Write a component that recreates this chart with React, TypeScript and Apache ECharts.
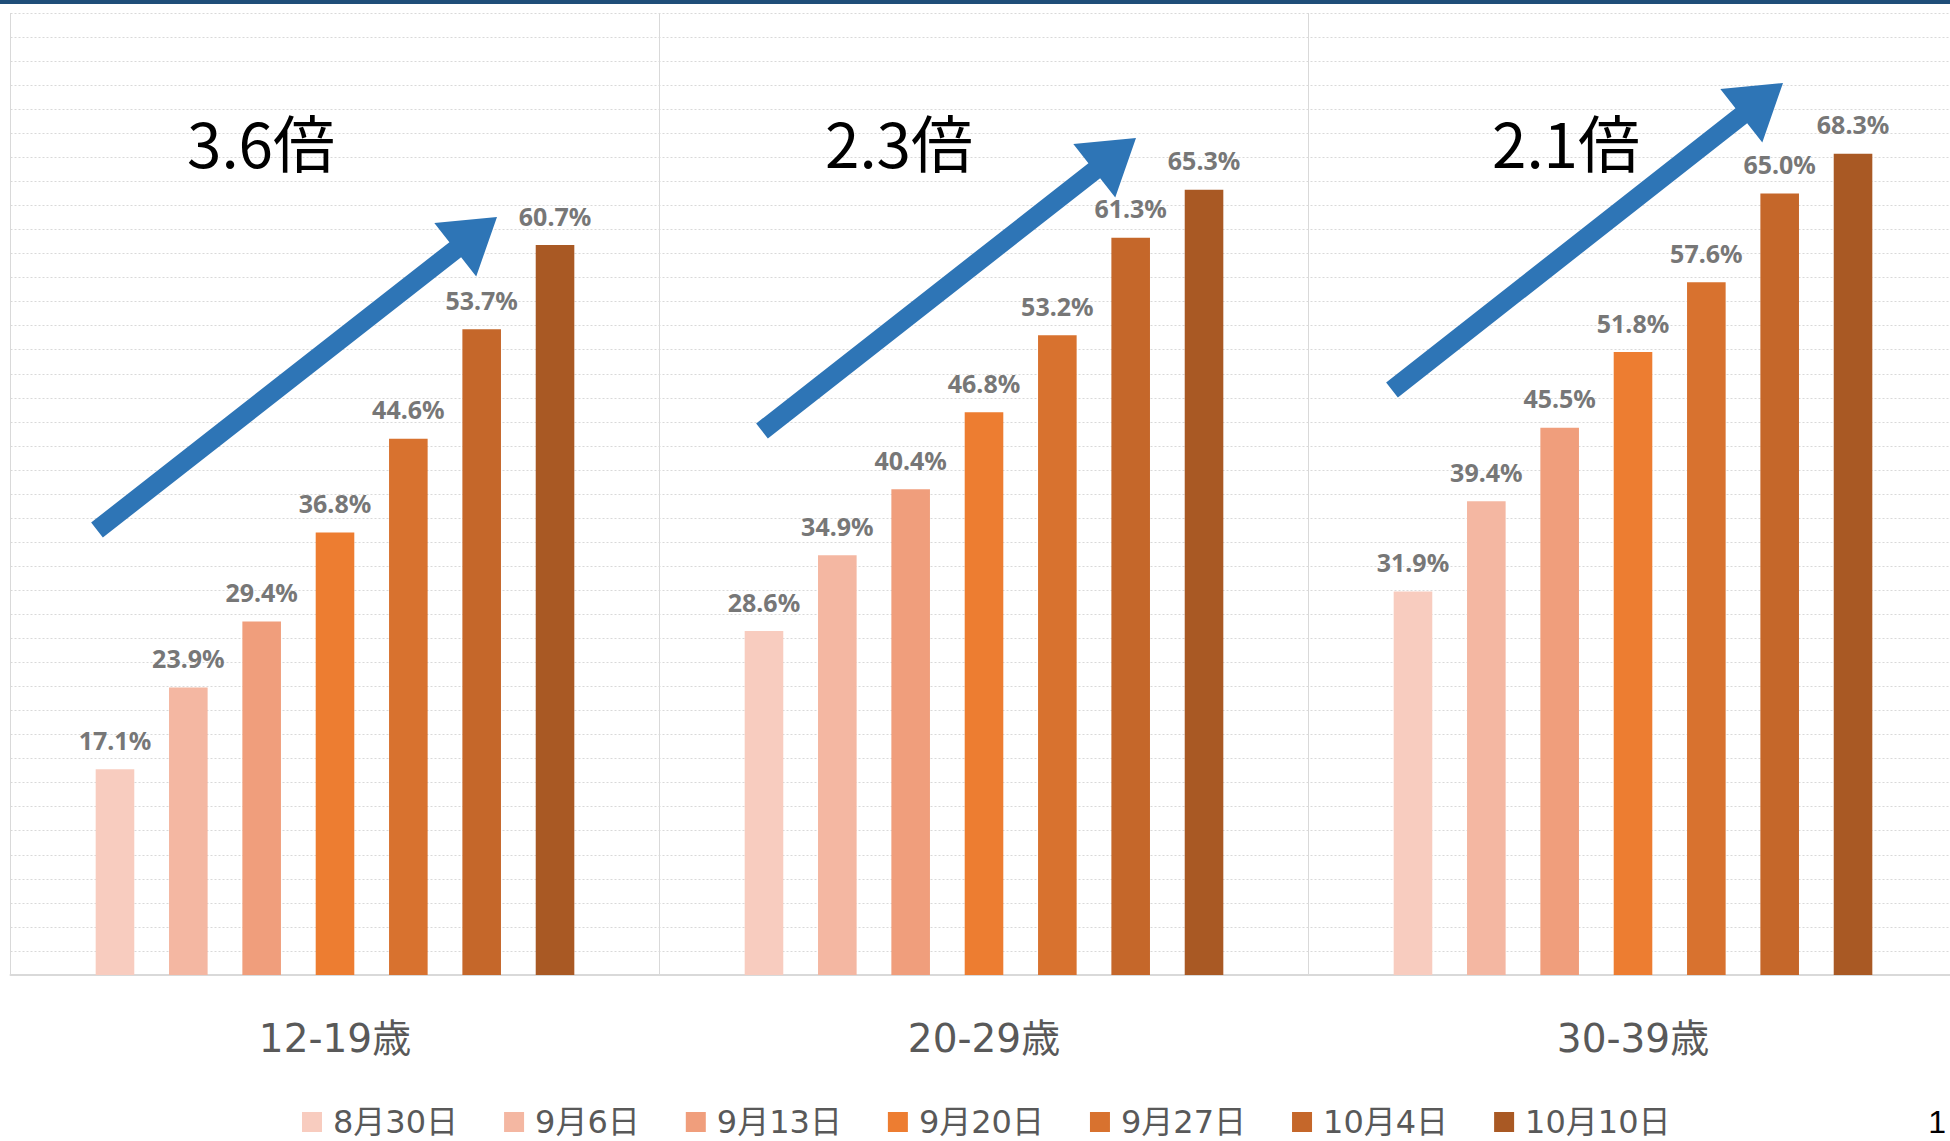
import React, { useEffect, useRef } from "react";
import * as echarts from "echarts";

const categories = ["12-19歳", "20-29歳", "30-39歳"];
const seriesNames = ["8月30日", "9月6日", "9月13日", "9月20日", "9月27日", "10月4日", "10月10日"];
const s0830 = [17.1, 28.6, 31.9];
const s0906 = [23.9, 34.9, 39.4];
const s0913 = [29.4, 40.4, 45.5];
const s0920 = [36.8, 46.8, 51.8];
const s0927 = [44.6, 53.2, 57.6];
const s1004 = [53.7, 61.3, 65.0];
const s1010 = [60.7, 65.3, 68.3];
const seriesValues = [s0830, s0906, s0913, s0920, s0927, s1004, s1010];
const ratioTexts = ["3.6倍", "2.3倍", "2.1倍"];

const colors = ["#F8CCBF", "#F4B7A2", "#F09E7C", "#ED7D31", "#D8722F", "#C5672A", "#A95924"];

const CJK = "'DejaVu Sans', 'Noto Sans CJK JP', sans-serif";

function arrowPoints(tx: number, ty: number, px: number, py: number, sw: number, hl: number, hw: number) {
  const dx = px - tx;
  const dy = py - ty;
  const L = Math.hypot(dx, dy);
  const ux = dx / L;
  const uy = dy / L;
  const nx = -uy;
  const ny = ux;
  const bx = px - ux * hl;
  const by = py - uy * hl;
  return [
    [tx + (nx * sw) / 2, ty + (ny * sw) / 2],
    [bx + (nx * sw) / 2, by + (ny * sw) / 2],
    [bx + (nx * hw) / 2, by + (ny * hw) / 2],
    [px, py],
    [bx - (nx * hw) / 2, by - (ny * hw) / 2],
    [bx - (nx * sw) / 2, by - (ny * sw) / 2],
    [tx - (nx * sw) / 2, ty - (ny * sw) / 2],
  ];
}

const arrows = [
  [97, 530, 497, 217],
  [762, 431, 1136, 138],
  [1392, 390, 1783, 83],
];
const ratioPos = [
  [261, 141],
  [899, 141],
  [1566, 141],
];

export default function App() {
  const ref = useRef<HTMLDivElement>(null);
  useEffect(() => {
    if (!ref.current) return;
    const chart = echarts.init(ref.current, null, { renderer: "svg" });
    const graphics: any[] = [
      {
        type: "rect",
        shape: { x: 0, y: 0, width: 1966, height: 4 },
        style: { fill: "#1F4E79" },
        z: 100,
      },
    ];
    arrows.forEach((a) => {
      graphics.push({
        type: "polygon",
        shape: { points: arrowPoints(a[0], a[1], a[2], a[3], 19, 53, 68) },
        style: { fill: "#2E75B6" },
        z: 100,
      });
    });
    ratioTexts.forEach((t, i) => {
      graphics.push({
        type: "text",
        x: ratioPos[i][0],
        y: ratioPos[i][1],
        style: {
          text: t,
          fill: "#000000",
          font: "62px 'Noto Sans CJK JP', sans-serif",
          textAlign: "center",
          textVerticalAlign: "middle",
        },
        z: 100,
      });
    });
    graphics.push({
      type: "text",
      x: 1946,
      y: 1122,
      style: {
        text: "1",
        fill: "#000000",
        font: "32px 'Liberation Sans', sans-serif",
        textAlign: "right",
        textVerticalAlign: "middle",
      },
      z: 100,
    });

    chart.setOption({
      animation: false,
      backgroundColor: "#ffffff",
      grid: { left: 10.5, right: 8.5, top: 13, bottom: 166, containLabel: false },
      legend: {
        left: 302,
        top: 1106,
        padding: 0,
        itemWidth: 20,
        itemHeight: 20,
        itemGap: 46,
        icon: "rect",
        data: seriesNames,
        textStyle: {
          color: "#595959",
          fontSize: 32,
          fontFamily: CJK,
          padding: [0, 0, 0, 6],
        },
      },
      xAxis: {
        type: "category",
        data: categories,
        axisTick: { show: false },
        axisLine: { show: true, lineStyle: { color: "#D9D9D9", width: 2 } },
        splitLine: { show: true, lineStyle: { color: "#D9D9D9", width: 1 } },
        axisLabel: {
          color: "#595959",
          fontSize: 39,
          fontFamily: CJK,
          margin: 44,
        },
      },
      yAxis: {
        type: "value",
        min: 0,
        max: 80,
        interval: 2,
        axisLabel: { show: false },
        axisLine: { show: false },
        axisTick: { show: false },
        splitLine: { show: true, lineStyle: { color: "#D9D9D9", width: 1, type: [2, 2] } },
      },
      series: seriesNames.map((name, i) => ({
        name,
        type: "bar",
        data: seriesValues[i],
        barWidth: 38.6,
        barGap: "90%",
        itemStyle: { color: colors[i] },
        label: {
          show: true,
          position: "top",
          distance: 17,
          color: "#777777",
          fontSize: 25,
          fontWeight: "bold",
          fontFamily: "'Noto Sans', sans-serif",
          formatter: (p: any) => `${Number(p.value).toFixed(1)}%`,
        },
      })),
      graphic: graphics,
    });
    return () => chart.dispose();
  }, []);
  return (
    <div style={{ position: "fixed", left: 0, top: 0, width: 1950, height: 1141, overflow: "hidden", background: "#fff" }}>
      <div ref={ref} style={{ width: 1966, height: 1141 }} />
    </div>
  );
}
